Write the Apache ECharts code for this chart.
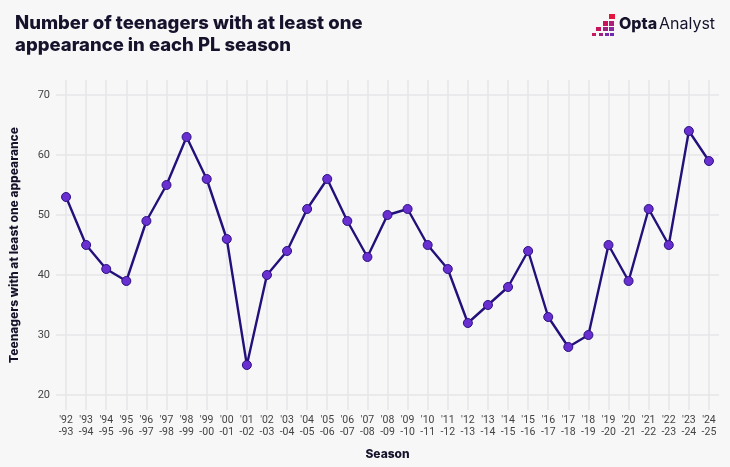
<!DOCTYPE html>
<html>
<head>
<meta charset="utf-8">
<script src="https://cdn.jsdelivr.net/npm/echarts@6/dist/echarts.min.js"></script>
<style>
html,body{margin:0;padding:0;background:#f7f7f8;}
#chart{width:730px;height:467px;}
</style>
</head>
<body>
<div id="chart"></div>
<script>
const seasons = ["'92\n-93","'93\n-94","'94\n-95","'95\n-96","'96\n-97","'97\n-98","'98\n-99","'99\n-00","'00\n-01","'01\n-02","'02\n-03","'03\n-04","'04\n-05","'05\n-06","'06\n-07","'07\n-08","'08\n-09","'09\n-10","'10\n-11","'11\n-12","'12\n-13","'13\n-14","'14\n-15","'15\n-16","'16\n-17","'17\n-18","'18\n-19","'19\n-20","'20\n-21","'21\n-22","'22\n-23","'23\n-24","'24\n-25"];
const teenagers = [53,45,41,39,49,55,63,56,46,25,40,44,51,56,49,43,50,51,45,41,32,35,38,44,33,28,30,45,39,51,45,64,59];
const yTicks = [20,30,40,50,60,70];

const chart = echarts.init(document.getElementById('chart'));
const logoSquares = [
  [609,14,6,5,'#e3173e'],
  [603,21,5,5,'#c8145a'],[609,21,5,5,'#b01e7a'],
  [596,27,5,4,'#c8145a'],[603,27,5,4,'#a0207e'],[609,27,5,4,'#8a2aa0'],
  [592,33,4,3,'#c41a60'],[599,33,4,3,'#a0207e'],[605,33,4,3,'#7d2aa8'],[610,33,4,3,'#7028b0']
];
chart.setOption({
  backgroundColor: '#f7f7f8',
  animation: false,
  title: {
    text: 'Number of teenagers with at least one\nappearance in each PL season',
    left: 10, top: 7,
    textStyle: {fontFamily: 'Inter', fontWeight: 800, fontSize: 18.5, lineHeight: 22, color: '#16122b'}
  },
  graphic: logoSquares.map(s => ({type:'rect', shape:{x:s[0],y:s[1],width:s[2],height:s[3]}, style:{fill:s[4]}})).concat([
    {type:'text', left: 619, top: 16, style:{text:'Opta', font:'800 16px Inter', fill:'#16122b'}},
    {type:'text', left: 659, top: 16, style:{text:'Analyst', font:'400 16px Inter', fill:'#16122b'}}
  ]),
  grid: {left: 50, right: 11, top: 80, bottom: 57, containLabel: false},
  xAxis: {
    type: 'category',
    data: seasons,
    boundaryGap: true,
    name: 'Season',
    nameLocation: 'middle',
    nameGap: 38,
    nameTextStyle: {fontFamily: 'Inter', fontWeight: 800, fontSize: 12, color: '#16122b'},
    axisLine: {show: false},
    axisTick: {show: false},
    axisLabel: {interval: 0, fontFamily: 'Roboto', fontSize: 10.5, color: '#444', lineHeight: 12, margin: 4},
    splitLine: {show: true, alignWithLabel: true, lineStyle: {color: '#e6e6e8', width: 1.5}}
  },
  yAxis: {
    type: 'value',
    min: 17.5, max: 72.5,
    name: 'Teenagers with at least one appearance',
    nameLocation: 'middle',
    nameGap: 36,
    nameTextStyle: {fontFamily: 'Inter', fontWeight: 800, fontSize: 12, color: '#16122b'},
    axisLine: {show: false},
    axisTick: {show: false, customValues: yTicks},
    axisLabel: {customValues: yTicks, fontFamily: 'Roboto', fontSize: 11, color: '#444', margin: 6},
    splitLine: {show: true, lineStyle: {color: '#e6e6e8', width: 1.5}}
  },
  series: [{
    type: 'line',
    data: teenagers,
    symbol: 'circle',
    symbolSize: 9,
    lineStyle: {color: '#24107a', width: 2.4},
    itemStyle: {color: '#6a2fd0', borderColor: '#2a1280', borderWidth: 1}
  }]
});
</script>
</body>
</html>
